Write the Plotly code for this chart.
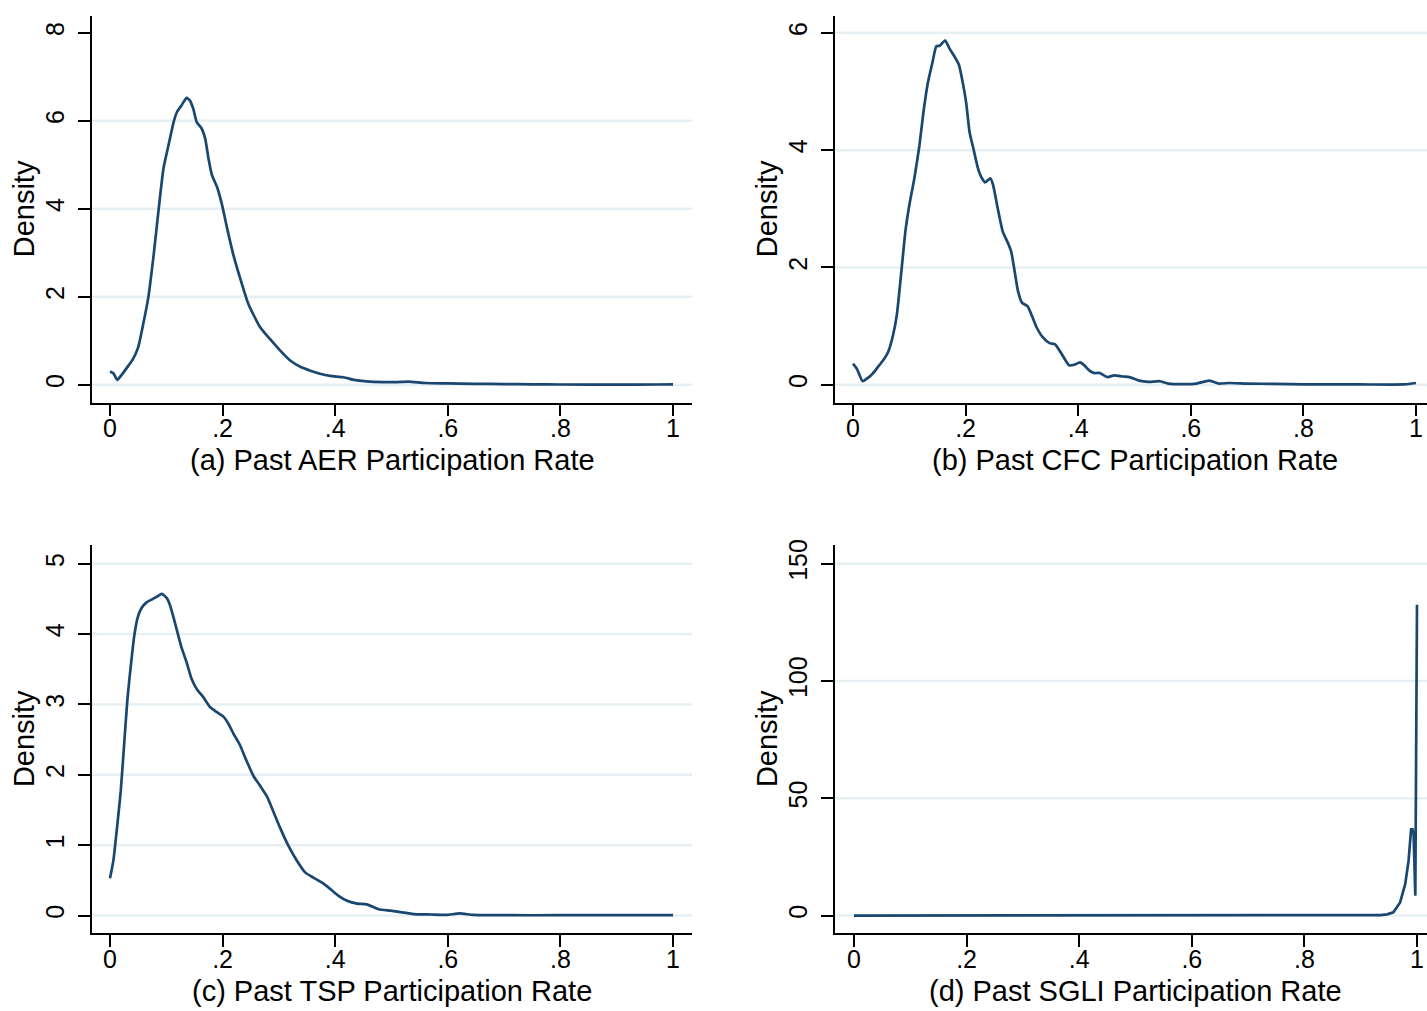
import plotly.graph_objects as go

W, H = 1427, 1011

# ---------------- data ----------------
aer_x = [0.0, 0.006, 0.013, 0.021, 0.033, 0.041, 0.050, 0.059, 0.068, 0.077, 0.086, 0.095,
         0.104, 0.113, 0.119, 0.127, 0.136, 0.142, 0.148, 0.154, 0.163, 0.169, 0.175, 0.181,
         0.190, 0.199, 0.208, 0.219, 0.231, 0.246, 0.267, 0.284, 0.302, 0.320, 0.338, 0.356,
         0.373, 0.391, 0.415, 0.433, 0.456, 0.486, 0.510, 0.53, 0.56, 0.60, 0.65, 0.70, 0.75,
         0.80, 0.90, 0.97, 1.0]
aer_y = [0.30, 0.26, 0.11, 0.23, 0.44, 0.59, 0.85, 1.38, 1.98, 2.89, 3.94, 4.92,
         5.45, 5.97, 6.20, 6.35, 6.52, 6.46, 6.27, 5.97, 5.82, 5.60, 5.14, 4.77,
         4.50, 4.09, 3.56, 2.96, 2.43, 1.83, 1.30, 1.04, 0.78, 0.55, 0.41, 0.32,
         0.25, 0.20, 0.17, 0.11, 0.075, 0.06, 0.06, 0.07, 0.04, 0.03, 0.02, 0.015, 0.01,
         0.005, 0.003, 0.005, 0.01]

cfc_x = [0.0, 0.007, 0.017, 0.027, 0.035, 0.044, 0.053, 0.062, 0.071, 0.078, 0.086, 0.093,
         0.100, 0.109, 0.118, 0.125, 0.133, 0.141, 0.148, 0.154, 0.158, 0.164, 0.171, 0.180,
         0.188, 0.195, 0.201, 0.207, 0.214, 0.222, 0.229, 0.235, 0.244, 0.249, 0.257, 0.266,
         0.275, 0.281, 0.287, 0.293, 0.300, 0.310, 0.318, 0.326, 0.337, 0.349, 0.359, 0.369,
         0.384, 0.393, 0.403, 0.411, 0.420, 0.428, 0.438, 0.452, 0.464, 0.479, 0.491, 0.508,
         0.525, 0.545, 0.56, 0.59, 0.61, 0.633, 0.65, 0.668, 0.70, 0.75, 0.80, 0.90, 0.98, 1.0]
cfc_y = [0.36, 0.27, 0.06, 0.12, 0.19, 0.30, 0.41, 0.55, 0.84, 1.20, 1.94, 2.61,
         3.06, 3.52, 4.08, 4.64, 5.15, 5.49, 5.77, 5.78, 5.82, 5.87, 5.74, 5.60,
         5.46, 5.15, 4.81, 4.31, 4.02, 3.69, 3.52, 3.45, 3.52, 3.40, 3.01, 2.61,
         2.42, 2.27, 1.94, 1.60, 1.40, 1.34, 1.17, 0.98, 0.81, 0.71, 0.69, 0.55,
         0.33, 0.34, 0.38, 0.33, 0.24, 0.20, 0.20, 0.13, 0.16, 0.14, 0.13, 0.07,
         0.05, 0.06, 0.02, 0.01, 0.02, 0.07, 0.02, 0.03, 0.02, 0.015, 0.005, 0.005, 0.005, 0.03]

tsp_x = [0.0, 0.006, 0.013, 0.019, 0.025, 0.031, 0.037, 0.043, 0.049, 0.056, 0.065, 0.074,
         0.083, 0.092, 0.101, 0.107, 0.113, 0.119, 0.127, 0.136, 0.145, 0.154, 0.166, 0.178,
         0.190, 0.201, 0.210, 0.219, 0.231, 0.243, 0.255, 0.267, 0.279, 0.290, 0.302, 0.317,
         0.332, 0.347, 0.361, 0.376, 0.391, 0.406, 0.421, 0.439, 0.456, 0.477, 0.498, 0.516,
         0.539, 0.570, 0.598, 0.621, 0.645, 0.70, 0.80, 0.90, 1.0]
tsp_y = [0.53, 0.78, 1.29, 1.76, 2.42, 3.08, 3.55, 3.97, 4.23, 4.37, 4.45, 4.49,
         4.53, 4.57, 4.51, 4.40, 4.23, 4.05, 3.81, 3.60, 3.36, 3.22, 3.10, 2.96,
         2.89, 2.83, 2.73, 2.59, 2.42, 2.19, 1.98, 1.84, 1.69, 1.48, 1.25, 0.99,
         0.78, 0.61, 0.54, 0.47, 0.38, 0.28, 0.21, 0.17, 0.16, 0.09, 0.07, 0.05,
         0.02, 0.015, 0.01, 0.03, 0.01, 0.005, 0.005, 0.005, 0.005]

sgli_x = [0.0, 0.2, 0.4, 0.6, 0.8, 0.90, 0.935, 0.947, 0.958, 0.970, 0.979, 0.985,
          0.9895, 0.992, 0.994, 0.997, 0.998, 1.0]
sgli_y = [0.0, 0.0, 0.0, 0.0, 0.0, 0.0, 0.2, 0.5, 1.4, 5.6, 13.4, 23.3,
          36.7, 36.7, 34.6, 8.5, 60.0, 132.5]

x_tickvals = [0, 0.2, 0.4, 0.6, 0.8, 1]
x_ticktext = ["0", ".2", ".4", ".6", ".8", "1"]

titles = ["(a) Past AER Participation Rate", "(b) Past CFC Participation Rate",
          "(c) Past TSP Participation Rate", "(d) Past SGLI Participation Rate"]
y_ticks = [[0, 2, 4, 6, 8], [0, 2, 4, 6], [0, 1, 2, 3, 4, 5], [0, 50, 100, 150]]
y_grids = [[0, 2, 4, 6], [0, 2, 4, 6], [0, 1, 2, 3, 4, 5], [0, 50, 100, 150]]
y_label = "Density"

# ---------------- layout geometry (pixels) ----------------
FONT = "Arial, Liberation Sans, sans-serif"
LINE = "#1a476f"
GRID = "#e8eff2"

panels = [
    dict(x=aer_x, y=aer_y, px=(92, 692), py=(10, 399), x0px=110, y0px=381, ytop=(8, 27), smooth=True),
    dict(x=cfc_x, y=cfc_y, px=(835, 1427), py=(10, 399), x0px=853, y0px=381, ytop=(6, 27), smooth=True),
    dict(x=tsp_x, y=tsp_y, px=(92, 692), py=(542, 933), x0px=110, y0px=915, ytop=(5, 561), smooth=True),
    dict(x=sgli_x, y=sgli_y, px=(835, 1427), py=(542, 933), x0px=854, y0px=915, ytop=(150, 561), smooth=False),
]
XSCALE = 563.0

fig = go.Figure()
layout = dict(width=W, height=H, margin=dict(l=0, r=0, t=0, b=0),
              paper_bgcolor="white", plot_bgcolor="white", showlegend=False,
              font=dict(family=FONT, color="black"))
shapes = []
annotations = []

for i, p in enumerate(panels):
    n = "" if i == 0 else str(i + 1)
    xa, ya = "x" + n, "y" + n
    line = dict(color=LINE, width=2.7)
    if p["smooth"]:
        line.update(shape="spline", smoothing=0.5)
    fig.add_trace(go.Scatter(x=p["x"], y=p["y"], mode="lines", xaxis=xa, yaxis=ya,
                             line=line, hoverinfo="skip"))
    xl, xr = p["px"]
    yt, yb = p["py"]
    xmin = (xl - p["x0px"]) / XSCALE
    xmax = (xr - p["x0px"]) / XSCALE
    top_val, top_px = p["ytop"]
    yscale = (p["y0px"] - top_px) / top_val
    ymin = -(yb - p["y0px"]) / yscale
    ymax = (p["y0px"] - yt) / yscale
    axis_common = dict(showgrid=False, zeroline=False, showline=True, linecolor="black",
                       linewidth=1.6, ticks="outside", ticklen=12, tickwidth=1.6,
                       tickcolor="black", tickfont=dict(family=FONT, size=25, color="black"))
    layout["xaxis" + n] = dict(domain=[xl / W, xr / W], range=[xmin, xmax], anchor=ya,
                               tickmode="array", tickvals=x_tickvals, ticktext=x_ticktext,
                               ticklabelstandoff=-9, **axis_common)
    layout["yaxis" + n] = dict(domain=[1 - yb / H, 1 - yt / H], range=[ymin, ymax], anchor=xa,
                               tickmode="array", tickvals=y_ticks[i],
                               ticktext=[str(v) for v in y_ticks[i]], tickangle=-90,
                               ticklabelstandoff=4, **axis_common)
    for g in y_grids[i]:
        shapes.append(dict(type="line", xref=xa + " domain", yref=ya, x0=0, x1=1, y0=g, y1=g,
                           line=dict(color=GRID, width=2.5), layer="below"))
    # x-axis title (centred on the full 600px panel)
    cx = (p["px"][0] + 300) / W
    annotations.append(dict(text=titles[i], x=cx, y=1 - (yb + 58) / H, xref="paper", yref="paper",
                            xanchor="center", yanchor="middle", showarrow=False,
                            font=dict(family=FONT, size=29, color="black")))
    annotations.append(dict(text=y_label, x=(xl - 68) / W, y=1 - ((yt + yb) / 2) / H,
                            xref="paper", yref="paper", xanchor="center", yanchor="middle",
                            textangle=-90, showarrow=False,
                            font=dict(family=FONT, size=29, color="black")))

layout["shapes"] = shapes
layout["annotations"] = annotations
fig.update_layout(**layout)

fig.write_html("out.html", config={"displayModeBar": False},
               post_script="document.body.style.margin='0';")
